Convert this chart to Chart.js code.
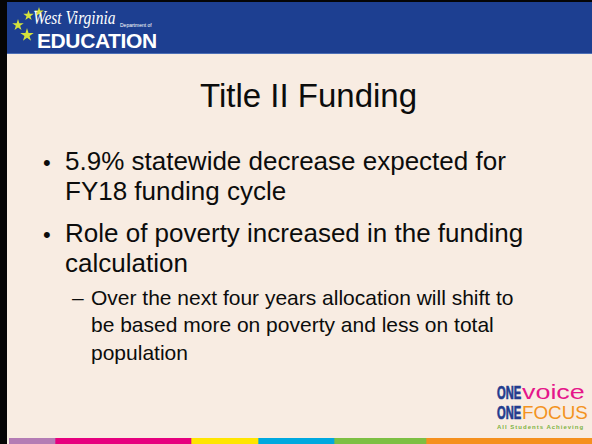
<!DOCTYPE html>
<html>
<head>
<meta charset="utf-8">
<script src="https://cdn.jsdelivr.net/npm/chart.js@4"></script>
<style>
  html, body { margin: 0; padding: 0; }
  body { width: 592px; height: 444px; overflow: hidden; font-family: "Liberation Sans", Arial, sans-serif; }
  #slide { position: relative; width: 592px; height: 444px; background: #f8ece2; overflow: hidden; }
  #leftBorder { position: absolute; left: 0; top: 0; width: 7px; height: 444px; background: #050505; }
  #topBorder { position: absolute; left: 0; top: 0; width: 592px; height: 2px; background: #050505; }
  #header { position: absolute; left: 7px; top: 2px; width: 585px; height: 51px; background: #1d3f91; border-bottom: 1px solid #4d6fb6; }
  .star { position: absolute; background: #d4e23c;
          clip-path: polygon(50% 0%, 61% 35%, 98% 35%, 68% 57%, 79% 91%, 50% 70%, 21% 91%, 32% 57%, 2% 35%, 39% 35%); }
  #wv { position: absolute; left: 26px; top: 7px; color: #fff; font: italic 18px "Liberation Serif", serif; line-height: 1; white-space: nowrap; transform-origin: left top; transform: scaleX(0.86); }
  #dept { position: absolute; left: 113px; top: 21px; color: #fff; font-size: 5px; line-height: 1; white-space: nowrap; }
  #edu { position: absolute; left: 30px; top: 28px; color: #fff; font: bold 21px "Liberation Sans", Arial, sans-serif; line-height: 21px; letter-spacing: -0.4px; white-space: nowrap; }
  .line { position: absolute; color: #0c0c0c; white-space: nowrap; line-height: 1; }
  #title { font-size: 33px; }
  .b1 { font-size: 26px; }
  .dot { font-size: 22px; }
  .b2 { font-size: 21px; }
  .lg { position: absolute; white-space: nowrap; line-height: 1; transform-origin: left top; font-family: "Liberation Sans", sans-serif; }
  .one { color: #233c8e; font-weight: bold; font-size: 18px; transform: scaleX(0.62); -webkit-text-stroke: 0.7px #233c8e; }
  .voice { color: #e5168a; font-size: 21px; transform: scaleX(1.28); }
  .focus { color: #f39321; font-size: 19px; transform: scaleX(0.99); }
  #tag { position: absolute; left: 497px; top: 423.5px; font: bold 6px "Liberation Sans", sans-serif; line-height: 1; color: #7cb342; letter-spacing: 1px; white-space: nowrap; }
  #stripe { position: absolute; left: 9px; top: 438px; }
</style>
</head>
<body>
<div id="slide">
  <div id="header">
    <div class="star" style="left:16px;top:8px;width:11px;height:11px"></div>
    <div class="star" style="left:27px;top:5px;width:10px;height:10px"></div>
    <div class="star" style="left:5px;top:17px;width:12px;height:12px"></div>
    <div class="star" style="left:13px;top:26px;width:14px;height:14px"></div>
    <div id="wv">West Virginia</div>
    <div id="dept">Department of</div>
    <div id="edu">EDUCATION</div>
  </div>
  <div id="leftBorder"></div>
  <div id="topBorder"></div>

  <div class="line" id="title" style="left:200px;top:79px">Title II Funding</div>

  <div class="line dot" style="left:43px;top:152px">•</div>
  <div class="line b1" style="left:65px;top:148px">5.9% statewide decrease expected for</div>
  <div class="line b1" style="left:65px;top:178px">FY18 funding cycle</div>
  <div class="line dot" style="left:43px;top:224px">•</div>
  <div class="line b1" style="left:65px;top:220px">Role of poverty increased in the funding</div>
  <div class="line b1" style="left:65px;top:250px">calculation</div>

  <div class="line b2" style="left:72px;top:287px">–</div>
  <div class="line b2" style="left:91px;top:287px">Over the next four years allocation will shift to</div>
  <div class="line b2" style="left:91px;top:314px">be based more on poverty and less on total</div>
  <div class="line b2" style="left:91px;top:342px">population</div>

  <div class="lg one" style="left:497px;top:384px">ONE</div>
  <div class="lg voice" style="left:522px;top:381px">voice</div>
  <div class="lg one" style="left:497px;top:404px">ONE</div>
  <div class="lg focus" style="left:522px;top:403px">FOCUS</div>
  <div id="tag">All Students Achieving</div>

  <canvas id="stripe" width="583" height="6"></canvas>
</div>

<script>
// colour band along the bottom edge, spans in px along the slide width
const stripeNames = ['purple', 'magenta', 'yellow', 'cyan', 'green', 'orange'];
const stripeSpans = [46, 136, 67, 76, 92, 166];
const stripeColors = ['#b47cb4', '#e6007e', '#ffe500', '#00a8df', '#7dbf43', '#f5901e'];

const total = stripeSpans.reduce((a, b) => a + b, 0);

new Chart(document.getElementById('stripe').getContext('2d'), {
    type: 'bar',
    data: {
        labels: ['band'],
        datasets: stripeNames.map((name, i) => ({
            label: name,
            data: [stripeSpans[i]],
            backgroundColor: stripeColors[i],
            borderWidth: 0,
            barPercentage: 1,
            categoryPercentage: 1,
        })),
    },
    options: {
        indexAxis: 'y',
        responsive: false,
        animation: false,
        devicePixelRatio: 1,
        layout: { padding: 0 },
        plugins: { legend: { display: false }, tooltip: { enabled: false } },
        scales: {
            x: { stacked: true, min: 0, max: total, display: false },
            y: { stacked: true, display: false },
        },
    },
});
</script>
</body>
</html>
